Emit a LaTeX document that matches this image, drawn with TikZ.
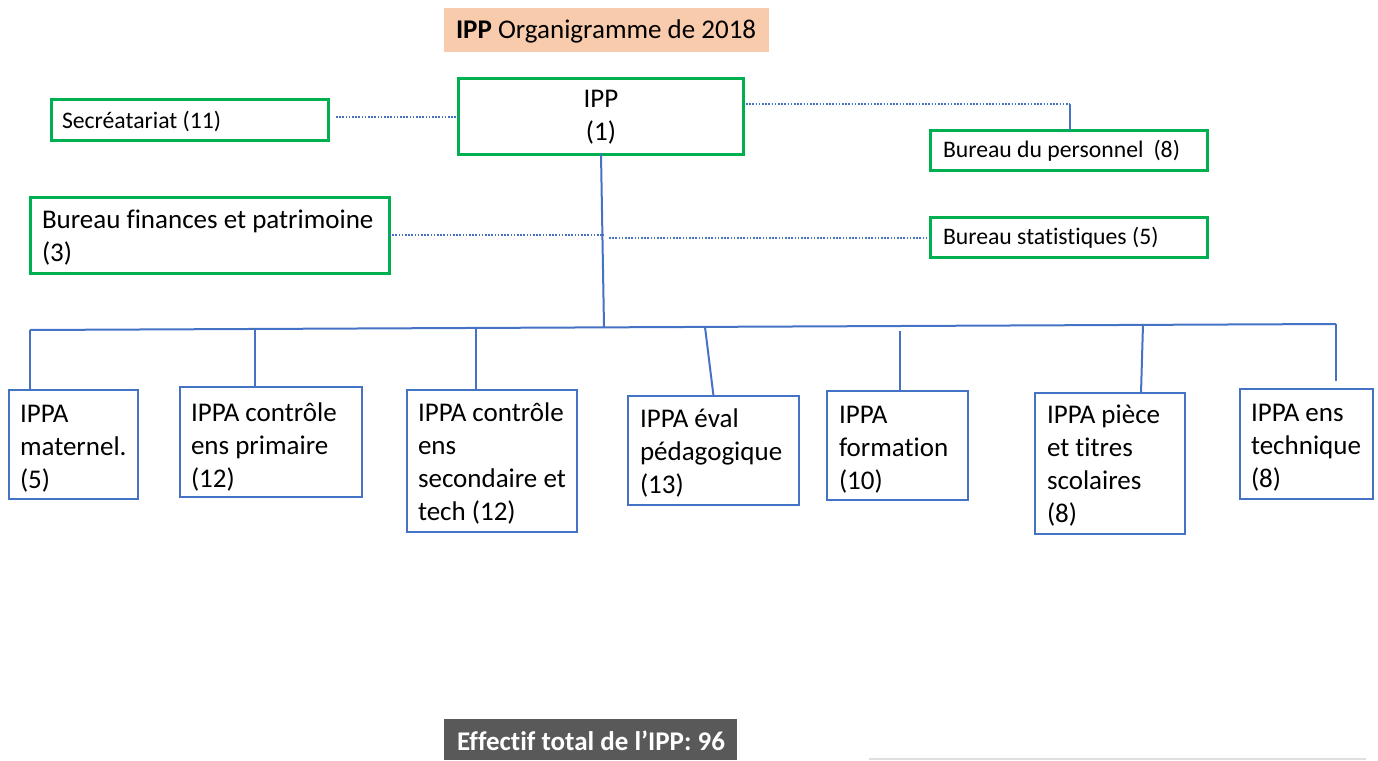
\documentclass[tikz,border=0pt]{standalone}
\usepackage{fontspec}
\setmainfont{Carlito}[Ligatures={NoCommon,NoContextual}]
\usetikzlibrary{calc}
\definecolor{orgblue}{HTML}{4472C4}
\definecolor{orggreen}{HTML}{00B050}
\definecolor{peach}{HTML}{F8CBAD}
\definecolor{darkgrey}{HTML}{595959}
\newcommand{\fl}{\rule{0pt}{24pt}}
\tikzset{
  gbox/.style={draw=orggreen, line width=3pt, inner sep=0pt, outer sep=0pt},
  bbox/.style={draw=orgblue, line width=2.5pt, inner sep=0pt, outer sep=0pt},
  txt/.style={inner sep=0pt, outer sep=0pt, anchor=north west, align=left,
              font=\fontsize{27}{33}\selectfont},
  smalltxt/.style={txt, font=\fontsize{23.7}{29}\selectfont},
  conn/.style={draw=orgblue, line width=2pt},
  dotline/.style={draw=orgblue, line width=2pt, dash pattern=on 1.6pt off 1.6pt},
}
\begin{document}
\begin{tikzpicture}[x=1pt, y=-1pt]
\useasboundingbox (0,0) rectangle (1378,760);

% title banner
\node[fill=peach, minimum width=325pt, minimum height=44pt, inner sep=0pt] (title) at (606.5,30) {};
\node[txt] (titletxt) at (456,15) {\fl\textbf{IPP} Organigramme de 2018};

% top level and staff offices
\node[gbox, minimum width=285pt, minimum height=76pt] (ipp) at (600.5,116) {};
\node[txt, anchor=north, align=center] (ipptxt) at (601,83) {\fl IPP\\(1)};

\node[gbox, minimum width=277pt, minimum height=41pt] (sec) at (189.5,119.5) {};
\node[smalltxt] (sectxt) at (62,104) {\fl Secréatariat (11)};

\node[gbox, minimum width=359pt, minimum height=76pt] (fin) at (209.5,235) {};
\node[txt] (fintxt) at (42,204) {\fl Bureau finances et patrimoine\\(3)};

\node[gbox, minimum width=277pt, minimum height=40pt] (pers) at (1068.5,150) {};
\node[smalltxt] (perstxt) at (943,133) {\fl Bureau du personnel\hspace{0.2em} (8)};

\node[gbox, minimum width=277pt, minimum height=40pt] (stat) at (1068.5,237) {};
\node[smalltxt] (stattxt) at (943,220) {\fl Bureau statistiques (5)};

% departments
\node[bbox, minimum width=129pt, minimum height=109pt] (b1) at (73.5,444.5) {};
\node[txt] (t1) at (20,398) {\fl IPPA\\maternel.\\(5)};

\node[bbox, minimum width=182pt, minimum height=110pt] (b2) at (271,442) {};
\node[txt] (t2) at (191,397) {\fl IPPA contrôle\\ens primaire\\(12)};

\node[bbox, minimum width=170pt, minimum height=142pt] (b3) at (492,461) {};
\node[txt] (t3) at (418,397) {\fl IPPA contrôle\\ens\\secondaire et\\tech (12)};

\node[bbox, minimum width=171pt, minimum height=109pt] (b4) at (713.5,450.5) {};
\node[txt] (t4) at (640,403) {\fl IPPA éval\\pédagogique\\(13)};

\node[bbox, minimum width=141pt, minimum height=109pt] (b5) at (897.5,445.5) {};
\node[txt] (t5) at (839,399) {\fl IPPA\\formation\\(10)};

\node[bbox, minimum width=150pt, minimum height=141pt] (b6) at (1110,463.5) {};
\node[txt] (t6) at (1047,399) {\fl IPPA pièce\\et titres\\scolaires\\(8)};

\node[bbox, minimum width=133pt, minimum height=110pt] (b7) at (1306.5,444) {};
\node[txt] (t7) at (1251,397) {\fl IPPA ens\\technique\\(8)};

% total staff
\node[fill=darkgrey, minimum width=293pt, minimum height=41pt, inner sep=0pt] (total) at (590.5,739.5) {};
\node[txt, text=white] (totaltxt) at (457,726) {\fl\textbf{Effectif total de l’IPP: 96}};

% bus and branch points
\coordinate (busL) at (30,330);
\coordinate (busR) at (1336,324);
\coordinate (trunk) at (604,327);
\coordinate (d2) at (255,329);
\coordinate (d3) at (476,328);
\coordinate (d4) at (705,327);
\coordinate (d5) at (900,331);
\coordinate (d6) at (1143,324);
\coordinate (e7) at (1336,381);
\coordinate (k) at (1070,104);

% hierarchy lines
\draw[conn] ([xshift=0.5pt]ipp.south) -- (trunk);
\draw[conn] (busL) -- (busR);
\draw[conn] (busL) -- (busL |- b1.north);
\draw[conn] (d2) -- (d2 |- b2.north);
\draw[conn] (d3) -- (d3 |- b3.north);
\draw[conn] (d4) -- (b4.north);
\draw[conn] (d5) -- (d5 |- b5.north);
\draw[conn] (d6) -- ([xshift=31pt]b6.north);
\draw[conn] (busR) -- (e7);

% staff links
\draw[dotline] ($(sec.east)+(8,-2.5)$) -- ($(ipp.west)+(0,1)$);
\draw[dotline] ($(ipp.east)+(3,-12)$) -- (k);
\draw[conn] (k) -- (k |- pers.north);
\draw[dotline] (fin.east) -- (fin.east -| trunk);
\draw[dotline] ($(fin.east -| trunk)+(5,3)$) -- ($(stat.west)+(0,1)$);

% faint rule along the lower edge
\draw[gray!25, line width=1.5pt] (869,759) -- (1366,759);
\end{tikzpicture}
\end{document}
